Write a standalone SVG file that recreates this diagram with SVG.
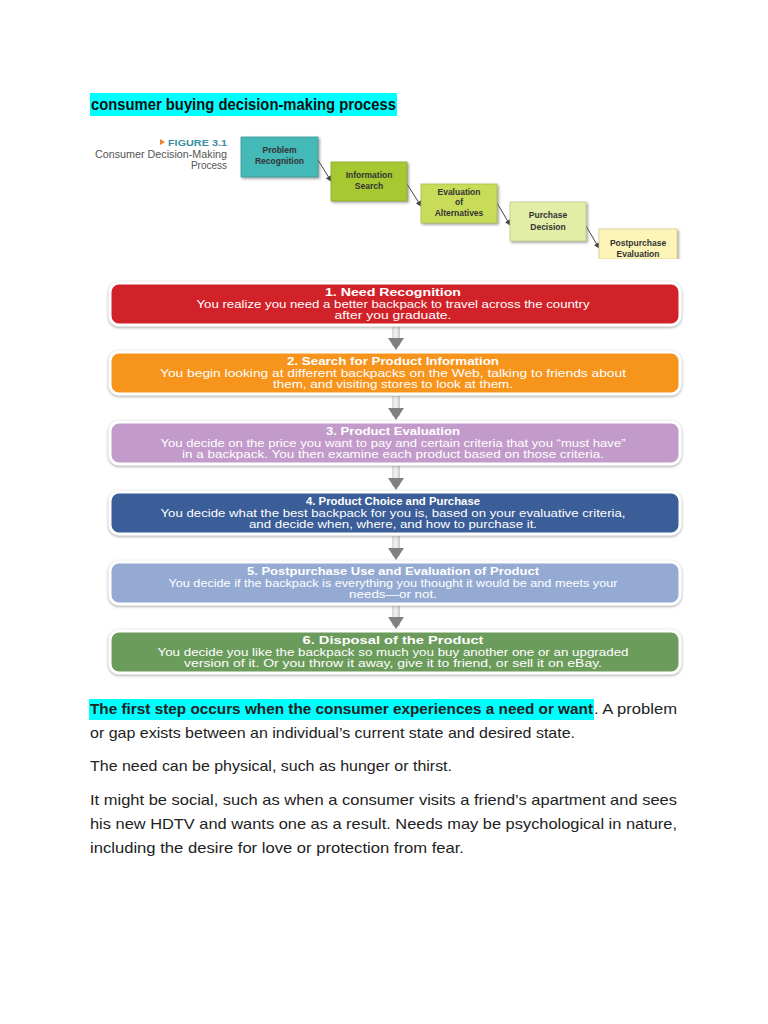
<svg xmlns="http://www.w3.org/2000/svg" width="768" height="1024" viewBox="0 0 768 1024">
<defs>
<style>
.fig{font-family:"Liberation Sans",Arial,sans-serif;font-weight:bold;font-size:8.5px;fill:#333;text-anchor:middle}
.bt{font-family:"Liberation Sans",Arial,sans-serif;font-weight:bold;font-size:10.5px;fill:#fff;text-anchor:middle}
.bb{font-family:"Liberation Sans",Arial,sans-serif;font-size:10.5px;fill:#fff;text-anchor:middle}
.body{font-family:"Liberation Sans",Arial,sans-serif;font-size:15px;fill:#222}
.sb{stroke:#fff;stroke-width:3}
.conn{stroke:#444;stroke-width:1;fill:none}
</style>
<filter id="sh" x="-5%" y="-30%" width="110%" height="160%">
<feDropShadow dx="0" dy="1" stdDeviation="1.6" flood-color="#777" flood-opacity="0.7"/>
</filter>
<filter id="sh2" x="-20%" y="-20%" width="140%" height="140%">
<feDropShadow dx="1.5" dy="1.5" stdDeviation="1.2" flood-color="#666" flood-opacity="0.6"/>
</filter>
<marker id="ah" markerWidth="6" markerHeight="6" refX="5" refY="3" orient="auto" markerUnits="userSpaceOnUse">
<path d="M0,0 L6,3 L0,6 Z" fill="#444"/>
</marker>
<linearGradient id="shaft" x1="0" y1="0" x2="1" y2="0">
<stop offset="0" stop-color="#d8d8d8"/>
<stop offset="0.5" stop-color="#f4f4f4"/>
<stop offset="1" stop-color="#c8c8c8"/>
</linearGradient>
</defs>
<rect width="768" height="1024" fill="#fff"/>

<g id="title">
<rect x="90" y="93" width="307" height="23" fill="#00ffff"/>
<text x="91" y="110" font-family="Liberation Sans,Arial,sans-serif" font-weight="bold" font-size="16.5" fill="#111" textLength="305" lengthAdjust="spacingAndGlyphs">consumer buying decision-making process</text>
</g>

<g id="figure-caption">
<path d="M160,139 L165,142 L160,145 Z" fill="#f08030"/>
<text x="168" y="146" font-family="Liberation Sans,Arial,sans-serif" font-weight="bold" font-size="9.5" fill="#3a8fa0" textLength="59" lengthAdjust="spacingAndGlyphs">FIGURE 3.1</text>
<text x="95" y="158" font-family="Liberation Sans,Arial,sans-serif" font-size="10" fill="#555" textLength="132" lengthAdjust="spacingAndGlyphs">Consumer Decision-Making</text>
<text x="227" y="169" text-anchor="end" font-family="Liberation Sans,Arial,sans-serif" font-size="10" fill="#555">Process</text>
</g>

<g id="fig-connectors">
<line class="conn" x1="318" y1="160" x2="331" y2="181" marker-end="url(#ah)"/>
<line class="conn" x1="407" y1="184" x2="421" y2="206" marker-end="url(#ah)"/>
<line class="conn" x1="497" y1="203" x2="510" y2="225" marker-end="url(#ah)"/>
<line class="conn" x1="586" y1="226" x2="599" y2="248" marker-end="url(#ah)"/>
</g>

<g id="problem-recognition">
<rect x="241" y="137" width="77" height="40" fill="#45b8b8" stroke="#3a9a9a" stroke-width="0.8" filter="url(#sh2)"/>
<text class="fig" x="279.5" y="153">Problem</text>
<text class="fig" x="279.5" y="164">Recognition</text>
</g>
<g id="information-search">
<rect x="331" y="162" width="76" height="39" fill="#a8c832" stroke="#8aa82a" stroke-width="0.8" filter="url(#sh2)"/>
<text class="fig" x="369" y="178">Information</text>
<text class="fig" x="369" y="189">Search</text>
</g>
<g id="evaluation-of-alternatives">
<rect x="421" y="184" width="76" height="39" fill="#c8dc5a" stroke="#a8bc4a" stroke-width="0.8" filter="url(#sh2)"/>
<text class="fig" x="459" y="195">Evaluation</text>
<text class="fig" x="459" y="205">of</text>
<text class="fig" x="459" y="216">Alternatives</text>
</g>
<g id="purchase-decision">
<rect x="510" y="202" width="76" height="39" fill="#e2eda8" stroke="#c0cc88" stroke-width="0.8" filter="url(#sh2)"/>
<text class="fig" x="548" y="218">Purchase</text>
<text class="fig" x="548" y="230">Decision</text>
</g>
<g id="postpurchase-evaluation">
<rect x="599" y="229" width="78" height="30" fill="#fdf5b8" stroke="#d8d090" stroke-width="0.8" filter="url(#sh2)"/>
<text class="fig" x="638" y="246">Postpurchase</text>
<text class="fig" x="638" y="257">Evaluation</text>
</g>
<rect x="595" y="259" width="90" height="8" fill="#fff"/>

<g id="flow-connectors">
<rect x="392" y="326" width="8" height="20" fill="url(#shaft)"/>
<path d="M388,338 L404,338 L396,350 Z" fill="#808080"/>
<rect x="392" y="396" width="8" height="20" fill="url(#shaft)"/>
<path d="M388,408 L404,408 L396,420 Z" fill="#808080"/>
<rect x="392" y="466" width="8" height="20" fill="url(#shaft)"/>
<path d="M388,478 L404,478 L396,490 Z" fill="#808080"/>
<rect x="392" y="536" width="8" height="20" fill="url(#shaft)"/>
<path d="M388,548 L404,548 L396,560 Z" fill="#808080"/>
<rect x="392" y="606" width="8" height="20" fill="url(#shaft)"/>
<path d="M388,617 L404,617 L396,629 Z" fill="#808080"/>
</g>

<g id="step1">
<rect class="sb" x="110" y="283" width="570" height="42" rx="9" fill="#d1232a" filter="url(#sh)"/>
<text class="bt" x="393" y="296" textLength="136" lengthAdjust="spacingAndGlyphs">1. Need Recognition</text>
<text class="bb" x="393" y="307.5" textLength="393" lengthAdjust="spacingAndGlyphs">You realize you need a better backpack to travel across the country</text>
<text class="bb" x="393" y="319" textLength="117" lengthAdjust="spacingAndGlyphs">after you graduate.</text>
</g>
<g id="step2">
<rect class="sb" x="110" y="352" width="570" height="42" rx="9" fill="#f7941d" filter="url(#sh)"/>
<text class="bt" x="393" y="365" textLength="212" lengthAdjust="spacingAndGlyphs">2. Search for Product Information</text>
<text class="bb" x="393" y="376.5" textLength="466" lengthAdjust="spacingAndGlyphs">You begin looking at different backpacks on the Web, talking to friends about</text>
<text class="bb" x="393" y="388" textLength="240" lengthAdjust="spacingAndGlyphs">them, and visiting stores to look at them.</text>
</g>
<g id="step3">
<rect class="sb" x="110" y="422" width="570" height="42" rx="9" fill="#c39bca" filter="url(#sh)"/>
<text class="bt" x="393" y="435" textLength="134" lengthAdjust="spacingAndGlyphs">3. Product Evaluation</text>
<text class="bb" x="393" y="446.5" textLength="465" lengthAdjust="spacingAndGlyphs">You decide on the price you want to pay and certain criteria that you “must have”</text>
<text class="bb" x="393" y="458" textLength="422" lengthAdjust="spacingAndGlyphs">in a backpack. You then examine each product based on those criteria.</text>
</g>
<g id="step4">
<rect class="sb" x="110" y="492" width="570" height="42" rx="9" fill="#3a5d98" filter="url(#sh)"/>
<text class="bt" x="393" y="505" textLength="174" lengthAdjust="spacingAndGlyphs">4. Product Choice and Purchase</text>
<text class="bb" x="393" y="516.5" textLength="465" lengthAdjust="spacingAndGlyphs">You decide what the best backpack for you is, based on your evaluative criteria,</text>
<text class="bb" x="393" y="528" textLength="288" lengthAdjust="spacingAndGlyphs">and decide when, where, and how to purchase it.</text>
</g>
<g id="step5">
<rect class="sb" x="110" y="562" width="570" height="42" rx="9" fill="#94aad2" filter="url(#sh)"/>
<text class="bt" x="393" y="575" textLength="292" lengthAdjust="spacingAndGlyphs">5. Postpurchase Use and Evaluation of Product</text>
<text class="bb" x="393" y="586.5" textLength="449" lengthAdjust="spacingAndGlyphs">You decide if the backpack is everything you thought it would be and meets your</text>
<text class="bb" x="393" y="598" textLength="88" lengthAdjust="spacingAndGlyphs">needs—or not.</text>
</g>
<g id="step6">
<rect class="sb" x="110" y="631" width="570" height="42" rx="9" fill="#6c9c5c" filter="url(#sh)"/>
<text class="bt" x="393" y="644" textLength="181" lengthAdjust="spacingAndGlyphs">6. Disposal of the Product</text>
<text class="bb" x="393" y="655.5" textLength="471" lengthAdjust="spacingAndGlyphs">You decide you like the backpack so much you buy another one or an upgraded</text>
<text class="bb" x="393" y="667" textLength="418" lengthAdjust="spacingAndGlyphs">version of it. Or you throw it away, give it to friend, or sell it on eBay.</text>
</g>

<g id="paragraphs">
<rect x="89" y="699" width="505" height="21" fill="#00ffff"/>
<text class="body" x="90" y="714" font-weight="bold" fill="#111" textLength="503" lengthAdjust="spacingAndGlyphs">The first step occurs when the consumer experiences a need or want</text>
<text class="body" x="594" y="714" textLength="83" lengthAdjust="spacingAndGlyphs">. A problem</text>
<text class="body" x="90" y="738" textLength="485" lengthAdjust="spacingAndGlyphs">or gap exists between an individual’s current state and desired state.</text>
<text class="body" x="90" y="771" textLength="362" lengthAdjust="spacingAndGlyphs">The need can be physical, such as hunger or thirst.</text>
<text class="body" x="90" y="805" textLength="587" lengthAdjust="spacingAndGlyphs">It might be social, such as when a consumer visits a friend’s apartment and sees</text>
<text class="body" x="90" y="829" textLength="587" lengthAdjust="spacingAndGlyphs">his new HDTV and wants one as a result. Needs may be psychological in nature,</text>
<text class="body" x="90" y="853" textLength="374" lengthAdjust="spacingAndGlyphs">including the desire for love or protection from fear.</text>
</g>
</svg>
